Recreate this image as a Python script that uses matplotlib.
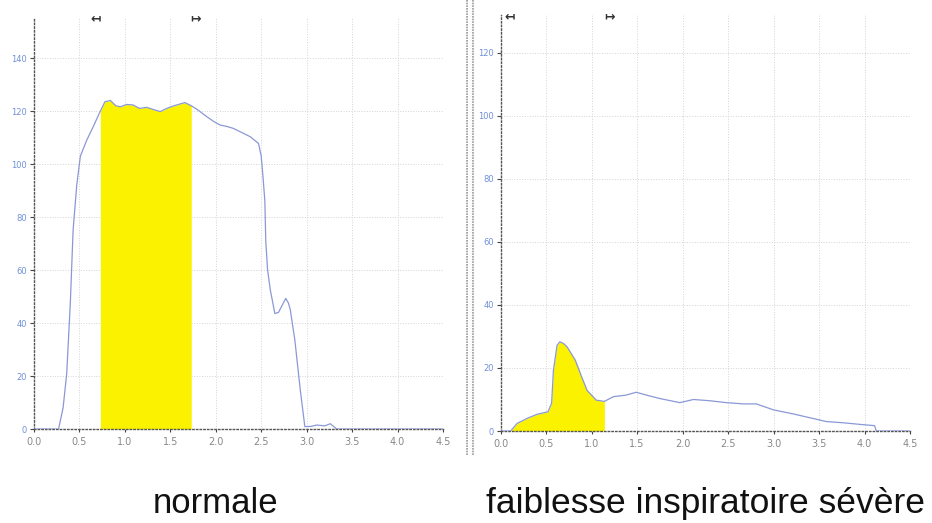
import numpy as np
import matplotlib.pyplot as plt

# left panel: normal inspiratory flow
x_norm = [0.0, 0.27, 0.32, 0.36, 0.40, 0.43, 0.47, 0.51, 0.58, 0.65, 0.73, 0.78, 0.84,
          0.90, 0.95, 1.02, 1.09, 1.16, 1.24, 1.32, 1.39, 1.46, 1.53, 1.60, 1.66, 1.73,
          1.80, 1.90, 1.98, 2.05, 2.12, 2.19, 2.28, 2.38, 2.47, 2.50, 2.52, 2.54, 2.55,
          2.57, 2.60, 2.65, 2.69, 2.72, 2.77, 2.80, 2.82, 2.87, 2.93, 2.98, 3.05, 3.11,
          3.20, 3.26, 3.33, 4.5]
y_norm = [0, 0, 8, 21, 48, 75, 92, 103, 109, 114, 120, 123.5, 124,
          122, 121.6, 122.5, 122.3, 121, 121.4, 120.5, 119.8, 121, 121.9, 122.6, 123.2, 122,
          120.5, 117.9, 116, 114.7, 114.2, 113.5, 112, 110.3, 107.8, 103, 95, 86, 71,
          60, 52.5, 43.6, 44, 46, 49.3, 47.5, 45, 33.6, 14.7, 0.9, 1.0, 1.5,
          1.2, 2.0, 0, 0]
fill_norm = (0.73, 1.73)
mark_norm = (0.68, 1.78)

# right panel: severe inspiratory weakness
x_weak = [0.0, 0.11, 0.18, 0.29, 0.40, 0.52, 0.56, 0.58, 0.62, 0.65, 0.69, 0.73, 0.82,
          0.89, 0.95, 1.05, 1.14, 1.24, 1.38, 1.49, 1.60, 1.75, 1.97, 2.12, 2.30, 2.48,
          2.67, 2.81, 3.00, 3.22, 3.40, 3.58, 3.77, 3.95, 4.11, 4.13, 4.5]
y_weak = [0, 0, 2.4, 4.0, 5.3, 6.1, 8.8, 19.3, 27.2, 28.3, 27.8, 26.7, 22.5,
          17.2, 12.9, 9.8, 9.4, 10.9, 11.4, 12.3, 11.4, 10.3, 9.0, 10.0, 9.6, 9.0,
          8.6, 8.6, 6.7, 5.4, 4.2, 3.0, 2.6, 2.1, 1.7, 0, 0]
fill_weak = (0.11, 1.14)
mark_weak = (0.10, 1.20)

xticks = np.arange(0, 4.51, 0.5)
line_c = '#8a98d6'
yellow = '#fbf200'

fig = plt.figure(figsize=(9.32, 5.23), dpi=100)
ax1 = fig.add_axes([0.0365, 0.1797, 0.4388, 0.7878])
ax2 = fig.add_axes([0.5372, 0.1759, 0.4392, 0.7954])

panels = [(ax1, x_norm, y_norm, fill_norm, mark_norm, 155.5, np.arange(0, 141, 20)),
          (ax2, x_weak, y_weak, fill_weak, mark_weak, 132, np.arange(0, 121, 20))]

for ax, xs, ys, fr, mk, ytop, yticks in panels:
    xs = np.array(xs)
    ys = np.array(ys)
    ax.set_xlim(0, 4.5)
    ax.set_ylim(0, ytop)
    ax.set_xticks(xticks)
    ax.set_xticklabels(['%.1f' % v for v in xticks])
    ax.set_yticks(yticks)
    ax.grid(True, linestyle=':', color='#d4d4d4', linewidth=0.7)
    for s in ['top', 'right']:
        ax.spines[s].set_visible(False)
    for s in ['left', 'bottom']:
        ax.spines[s].set_linestyle(':')
        ax.spines[s].set_color('#555555')
        ax.spines[s].set_linewidth(1.0)
    ax.tick_params(axis='x', colors='#444444', labelcolor='#888888', labelsize=7,
                   length=2, pad=4)
    ax.tick_params(axis='y', colors='#444444', labelcolor='#7090d8', labelsize=6,
                   length=3, pad=2)
    mask = (xs >= fr[0]) & (xs <= fr[1])
    ax.fill_between(xs, 0, ys, where=mask, color=yellow, linewidth=0, zorder=2)
    ax.plot(xs, ys, '-', color=line_c, linewidth=0.9, zorder=3)
    ax.text(mk[0], 0.995, '\u21a4', transform=ax.get_xaxis_transform(),
            ha='center', va='center', fontsize=9, color='#333333', fontweight='bold')
    ax.text(mk[1], 0.995, '\u21a6', transform=ax.get_xaxis_transform(),
            ha='center', va='center', fontsize=9, color='#333333', fontweight='bold')

# separator between the two panels
fig.add_artist(plt.Line2D([467 / 932, 467 / 932], [1 - 455 / 523, 1.0],
                          color='#999999', linewidth=1.2, linestyle=(0, (1, 0.6))))
fig.add_artist(plt.Line2D([473 / 932, 473 / 932], [1 - 455 / 523, 1.0],
                          color='#999999', linewidth=1.2, linestyle=(0, (1, 0.6))))

fig.text(216 / 932, 1 - 513 / 523, 'normale', ha='center', va='baseline',
         fontsize=25, family='Liberation Sans', color='#111111')
fig.text(705 / 932, 1 - 513 / 523, 'faiblesse inspiratoire sévère', ha='center',
         va='baseline', fontsize=25.5, family='Liberation Sans', color='#111111')

fig.savefig('out.png', dpi=100)
